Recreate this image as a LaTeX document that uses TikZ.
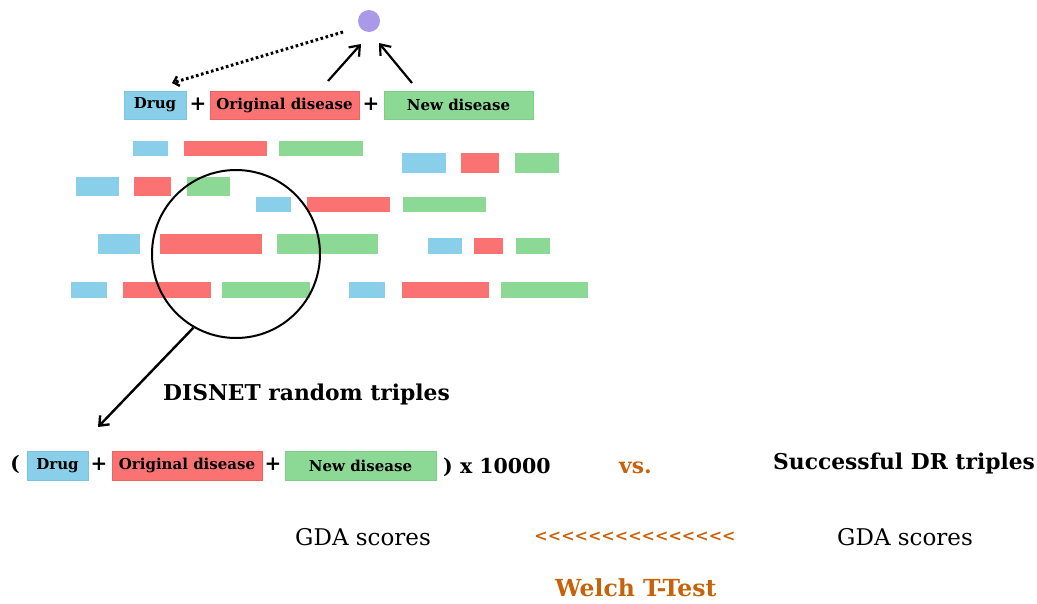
\documentclass[tikz,border=0pt]{standalone}
\usepackage{fontspec}
\setmainfont{DejaVu Serif}
\usetikzlibrary{arrows.meta}
\definecolor{drugblue}{HTML}{89CFEA}
\definecolor{drugedge}{HTML}{7CC4E2}
\definecolor{origred}{HTML}{FA7272}
\definecolor{origedge}{HTML}{F06262}
\definecolor{newgreen}{HTML}{8CD995}
\definecolor{newedge}{HTML}{7DCF88}
\definecolor{hubpurple}{HTML}{A999E8}
\definecolor{testorange}{HTML}{C8620A}
\tikzset{
  x=1pt, y=-1pt,
  cell/.style={inner sep=0pt, minimum height=#1, line width=0.8pt},
  drugbox/.style={cell=28pt, fill=drugblue, draw=drugedge},
  origbox/.style={cell=28pt, fill=origred, draw=origedge},
  newbox/.style={cell=28pt, fill=newgreen, draw=newedge},
  boxtext/.style={font=\bfseries\fontsize{15}{15}\selectfont},
  sym/.style={inner sep=0pt, font=\bfseries\fontsize{20}{20}\selectfont},
  bigtext/.style={inner sep=0pt, anchor=base west, font=\bfseries\fontsize{21.8}{22}\selectfont},
  plaintext/.style={inner sep=0pt, anchor=base west, font=\fontsize{23}{23}\selectfont},
  arr/.style={line width=2.2pt, -{Straight Barb[length=9pt,width=14pt,line width=2.2pt]}},
  dotarr/.style={line width=3pt, dash pattern=on 2.6pt off 2.6pt,
                 -{Straight Barb[length=5pt,width=10pt,line width=2.4pt]}}
}
\newcommand{\strip}[6]{% name, colour, x1, y1, x2, y2
  \path[fill=#2] (#3,#4) rectangle (#5,#6) coordinate (#1);}
\begin{document}
\begin{tikzpicture}
\useasboundingbox (0,0) rectangle (1037,603);

% hub of the triple
\node[circle, fill=hubpurple, minimum size=22pt, inner sep=0pt] (hub) at (369,21) {};

% top triple
\node[drugbox, minimum width=62pt, boxtext] (drug) at (155,105) {Drug};
\node[sym] (p1) at (198,104) {+};
\node[origbox, minimum width=149pt, boxtext] (orig) at (284.5,105) {Original disease};
\node[sym] (p2) at (371,104) {+};
\node[newbox, minimum width=149pt, boxtext] (new) at (458.5,105) {New disease};

\coordinate (a1s) at (328,81);  \coordinate (a1e) at (361,44);
\coordinate (a2s) at (412,83);  \coordinate (a2e) at (379,43);
\coordinate (ds) at (343,32);   \coordinate (de) at (172,83);
\draw[arr] (a1s) -- (a1e);
\draw[arr] (a2s) -- (a2e);
\draw[dotarr] (ds) -- (de);

% cloud of random triples
\foreach \n/\c/\xa/\ya/\xb/\yb in {
  r1a/drugblue/133/141/168/156, r1b/origred/184/141/267/156, r1c/newgreen/279/141/363/156,
  s1a/drugblue/402/153/446/173, s1b/origred/461/153/499/173, s1c/newgreen/515/153/559/173,
  r2a/drugblue/76/177/119/196, r2b/origred/134/177/171/196, r2c/newgreen/187/177/230/196,
  r3a/drugblue/256/197/291/212, r3b/origred/307/197/390/212, r3c/newgreen/403/197/486/212,
  r4a/drugblue/98/234/140/254, r4b/origred/160/234/262/254, r4c/newgreen/277/234/378/254,
  s4a/drugblue/428/238/462/254, s4b/origred/474/238/503/254, s4c/newgreen/516/238/550/254,
  r5a/drugblue/71/282/107/298, r5b/origred/123/282/211/298, r5c/newgreen/222/282/310/298,
  s5a/drugblue/349/282/385/298, s5b/origred/402/282/489/298, s5c/newgreen/501/282/588/298}
  {\strip{\n}{\c}{\xa}{\ya}{\xb}{\yb}}

% magnifying lens
\node[circle, draw=black, line width=2pt, minimum size=168pt, inner sep=0pt] (lens) at (236,254) {};
\coordinate (pick) at (98,427);
\draw[line width=2.4pt, -{Straight Barb[length=8pt,width=13pt,line width=2.4pt]}]
  (lens.240) -- (pick);

\node[bigtext] (disnet) at (163,400) {DISNET random triples};

% sampled triple
\node[sym] (lp) at (15,464) {(};
\node[drugbox, minimum width=61pt, minimum height=29pt, boxtext] (drug2) at (57.5,465.5) {Drug};
\node[sym] (p3) at (99,464) {+};
\node[origbox, minimum width=150pt, minimum height=29pt, boxtext] (orig2) at (187,465.5) {Original disease};
\node[sym] (p4) at (273,464) {+};
\node[newbox, minimum width=151pt, minimum height=29pt, boxtext] (new2) at (360.5,465.5) {New disease};
\node[bigtext, font=\bfseries\fontsize{20.5}{20}\selectfont] (times) at (443,473) {) x 10000};

\node[bigtext, text=testorange] (vs) at (619,473) {vs.};
\node[bigtext] (succ) at (773,469) {Successful DR triples};

% comparison of scores
\node[plaintext] (gdaL) at (295,545) {GDA scores};
\node[plaintext] (gdaR) at (837,545) {GDA scores};
\node[inner sep=0pt, text=testorange, font=\bfseries\fontsize{16}{16}\selectfont] (cmp) at (635,537) {<{}<{}<{}<{}<{}<{}<{}<{}<{}<{}<{}<{}<{}<{}<};
\node[bigtext, text=testorange, font=\bfseries\fontsize{23.5}{24}\selectfont] (welch) at (555,596) {Welch T-Test};
\end{tikzpicture}
\end{document}
